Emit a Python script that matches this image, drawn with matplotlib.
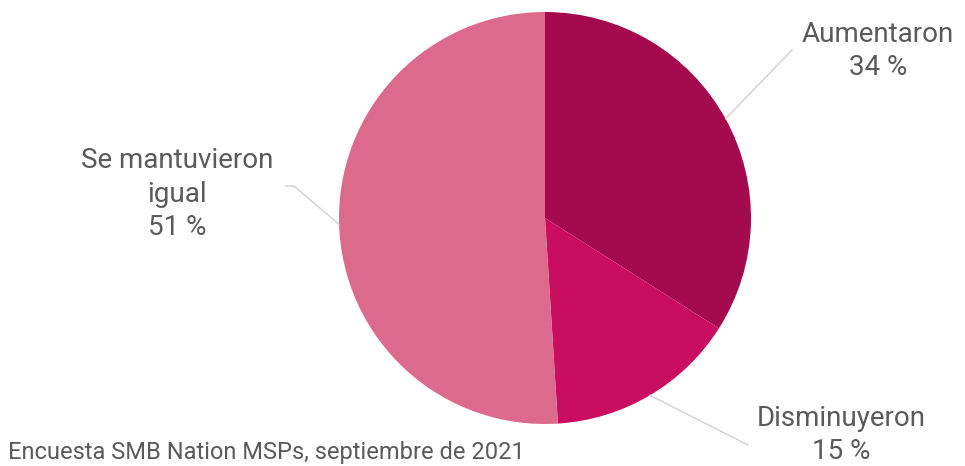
#!/usr/bin/env python3
import numpy as np
import matplotlib
matplotlib.use("Agg")
import matplotlib.pyplot as plt

labels = ["Aumentaron", "Disminuyeron", "Se mantuvieron\nigual"]
values = [34, 15, 51]
colors = ["#A5094E", "#C90D60", "#DC6A8C"]
source = "Encuesta SMB Nation MSPs, septiembre de 2021"

# label text positions (pixels in the 965x466 picture) and leader elbows
label_px = [(878, 51), (841, 435), (177, 194)]
elbow_px = [(792, 50), (748, 445), (294, 186)]

W, H = 965, 466
fig = plt.figure(figsize=(W / 100, H / 100), dpi=100)
cx, cy, r = 545, 218, 206
ax = fig.add_axes([(cx - r) / W, (H - cy - r) / H, 2 * r / W, 2 * r / H])

wedges, _ = ax.pie(values, colors=colors, startangle=90, counterclock=False,
                   radius=1, wedgeprops=dict(linewidth=0))
ax.set_xlim(-1, 1)
ax.set_ylim(-1, 1)
ax.set_aspect("equal")
ax.axis("off")


def px2d(p):
    return ((p[0] - cx) / r, (cy - p[1]) / r)


for w, lab, v, tp, ep in zip(wedges, labels, values, label_px, elbow_px):
    ang = np.deg2rad((w.theta1 + w.theta2) / 2)
    sx, sy = np.cos(ang), np.sin(ang)
    ex, ey = px2d(ep)
    line_x = [sx, ex]
    line_y = [sy, ey]
    if ex < 0:
        line_x.append(ex - 0.04)
        line_y.append(ey)
    ax.plot(line_x, line_y, color="#d0d0d0", lw=1, clip_on=False)
    tx, ty = px2d(tp)
    ax.text(tx, ty, f"{lab}\n{v} %", ha="center", va="center",
            fontsize=20, color="#5a5a5a", family="Roboto",
            fontweight="normal", linespacing=1.3, clip_on=False)

fig.text(8 / W, 1 - 452 / H, source, ha="left", va="center",
         fontsize=17, color="#5a5a5a", family="Roboto", fontweight="normal")

fig.savefig("out.png", dpi=100)
